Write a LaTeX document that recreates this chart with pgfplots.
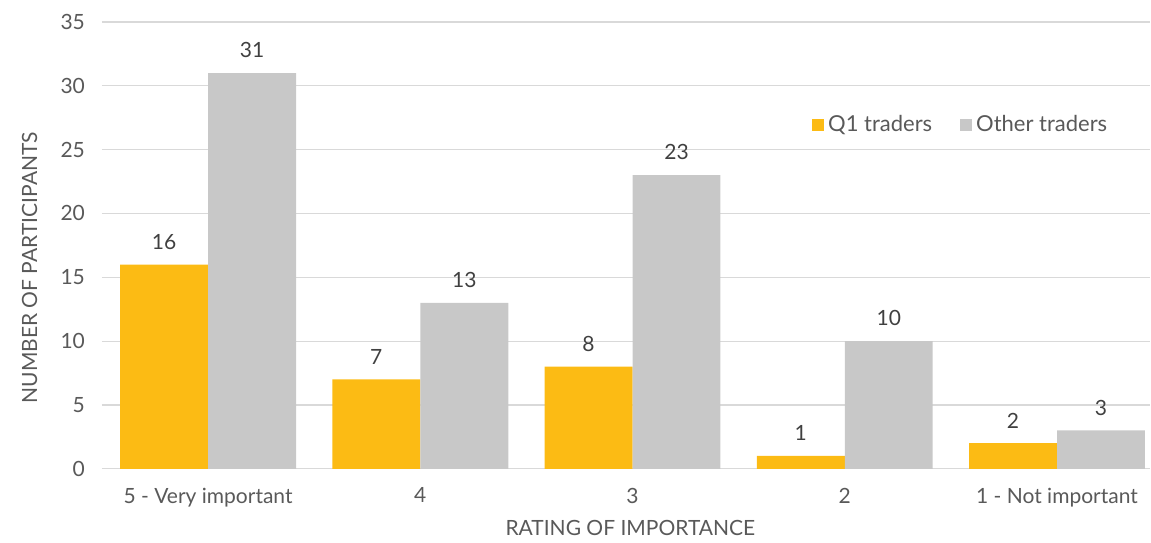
\documentclass[border=0pt]{standalone}
\usepackage{pgfplots}
\pgfplotsset{compat=1.18}
\usepackage{fontspec}
\setmainfont{Lato}
\definecolor{qone}{HTML}{FCBB14}
\definecolor{other}{HTML}{C8C8C8}
\definecolor{txt}{HTML}{595959}
\definecolor{grid}{HTML}{D9D9D9}
\begin{document}
\begin{tikzpicture}
\begin{axis}[
    scale only axis,
    width=524.5pt, height=223.5pt,
    ybar=0pt, bar width=44pt,
    xmin=-0.5, xmax=4.44,
    ymin=0, ymax=35,
    ytick={0,5,...,35},
    xtick={0,1,2,3,4},
    xticklabels={{5 - Very important},4,3,2,{1 - Not important}},
    axis lines*=left,
    x axis line style={draw=grid, -},
    y axis line style={draw=none},
    ymajorgrids, grid style={draw=grid, line width=0.6pt},
    major tick length=0pt,
    tick label style={font=\fontsize{10.5}{12}\selectfont, text=txt},
    /pgf/number format/assume math mode=true,
    yticklabel style={xshift=-5pt},
    xticklabel style={yshift=-6pt},
    ylabel={NUMBER OF PARTICIPANTS},
    xlabel={RATING OF IMPORTANCE},
    label style={font=\fontsize{10.5}{12}\selectfont, text=txt},
    ylabel style={at={(axis description cs:-0.069,0.45)}, anchor=center},
    xlabel style={at={(axis description cs:0.504,-0.132)}, anchor=center},
    nodes near coords,
    nodes near coords style={font=\fontsize{10.5}{12}\selectfont, text=black!75, yshift=4pt},
    legend style={at={(axis description cs:0.82,0.77)}, anchor=center,
        draw=none, fill=none, legend columns=2,
        font=\fontsize{11}{12}\selectfont, text=txt,
        /tikz/every even column/.append style={column sep=12pt}},
    legend image code/.code={\fill[#1] (0pt,-3pt) rectangle (6pt,3pt);},
]
\addplot[draw=none, fill=qone] coordinates {(0,16) (1,7) (2,8) (3,1) (4,2)};
\addplot[draw=none, fill=other] coordinates {(0,31) (1,13) (2,23) (3,10) (4,3)};
\legend{Q1 traders, Other traders}
\end{axis}
\path[use as bounding box] (-51pt,-36.5pt) rectangle (524.5pt,234.5pt);
\end{tikzpicture}
\end{document}
